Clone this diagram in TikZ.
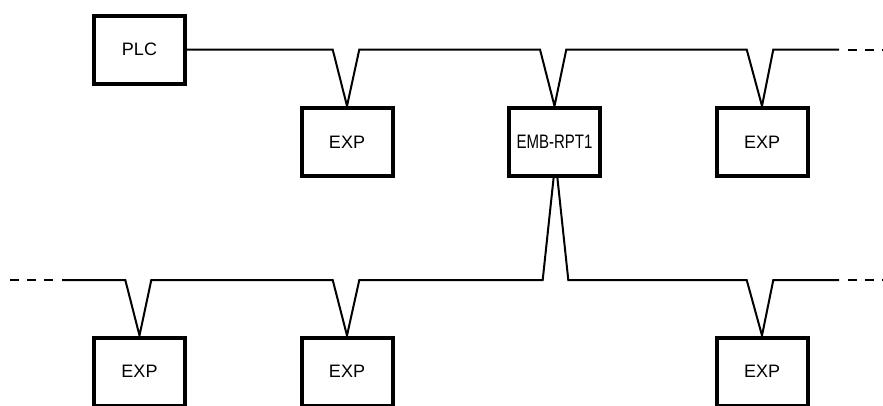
\documentclass[tikz,border=0pt]{standalone}
\usepackage{graphicx}
\usepackage{fontspec}
\setmainfont{Liberation Sans}
\usetikzlibrary{backgrounds}
\tikzset{
    unit/.style = {draw, line width = 4pt, fill = white, minimum width = 91pt, minimum height = 68pt, inner sep = 0pt, font = \fontsize{18}{18}\selectfont},
    bus/.style = {line width = 2pt},
    busend/.style = {line width = 2pt, dash pattern = on 8.5pt off 8.5pt}
}
\begin{document}
\begin{tikzpicture}[x = 1pt, y = -1pt]
        \useasboundingbox (0, 0) rectangle (883, 405);
        \node [unit] (plc) at (139.5, 49.5) {PLC};
        \node [unit] (exp1) at (347, 142) {EXP};
        \node [unit] (rpt) at (554.5, 142) {\scalebox{0.77}[1]{\fontsize{19.5}{19.5}\selectfont EMB-RPT1}};
        \node [unit] (exp2) at (762, 142) {EXP};
        \node [unit] (exp3) at (139.5, 371.5) {EXP};
        \node [unit] (exp4) at (347, 371.5) {EXP};
        \node [unit] (exp5) at (762, 371.5) {EXP};
        \coordinate (toptail) at (839, 49.5);
        \coordinate (topend) at (883, 49.5);
        \coordinate (lowstart) at (10, 280);
        \coordinate (lowhead) at (62, 280);
        \coordinate (lowtail) at (839, 280);
        \coordinate (lowend) at (883, 280);
        \coordinate (rptlink) at (555.5, 160);
        \begin{scope}[on background layer]
        \draw [bus] (plc.east) -- (332.7, 49.5) -- (exp1.north) -- (359.3, 49.5)
            -- (540, 49.5) -- (rpt.north) -- (566.3, 49.5)
            -- (746.7, 49.5) -- (exp2.north) -- (773.3, 49.5) -- (toptail);
        \draw [busend] ([xshift = 9pt] toptail) -- (topend);
        \draw [bus] (lowhead) -- (125.3, 280) -- (exp3.north) -- (151.3, 280)
            -- (332.7, 280) -- (exp4.north) -- (359.3, 280)
            -- (542.7, 280) -- (rptlink) -- (568.3, 280)
            -- (746.7, 280) -- (exp5.north) -- (773.3, 280) -- (lowtail);
        \draw [busend] (lowstart) -- ([xshift = -8.5pt] lowhead);
        \draw [busend] ([xshift = 9pt] lowtail) -- (lowend);
        \end{scope}
    \end{tikzpicture}
\end{document}
